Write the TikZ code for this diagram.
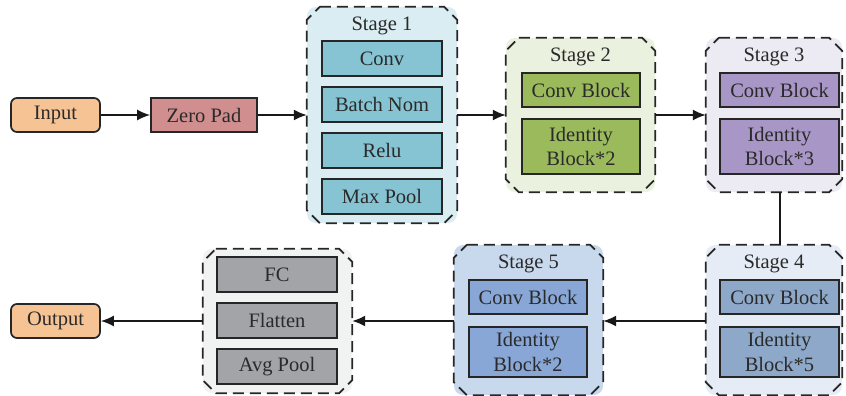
\documentclass[tikz,border=0pt]{standalone}
\usepackage{fontspec}
\setmainfont{Liberation Serif}
\usetikzlibrary{arrows.meta}
\definecolor{ioC}{HTML}{F6C394}
\definecolor{zpC}{HTML}{D08E8E}
\definecolor{sAbg}{HTML}{DAEDF3}\definecolor{sAin}{HTML}{86C4D3}
\definecolor{sBbg}{HTML}{EAF1DE}\definecolor{sBin}{HTML}{9BBA5C}
\definecolor{sCbg}{HTML}{ECEAF3}\definecolor{sCin}{HTML}{A897C6}
\definecolor{sDbg}{HTML}{E6ECF6}\definecolor{sDin}{HTML}{8EA8C9}
\definecolor{sEbg}{HTML}{C8D9EE}\definecolor{sEin}{HTML}{88A7D6}
\definecolor{sFbg}{HTML}{F1F2F2}\definecolor{sFin}{HTML}{A3A4A8}
\definecolor{txt}{HTML}{2A2A2A}
\tikzset{
  every node/.style={font=\fontsize{20.5}{24.5}\selectfont, text=txt},
  stagebox/.style={rectangle, rounded corners=9pt, inner sep=0pt, draw=none},
  outline/.style={draw=black!85, line width=1.8pt, dash pattern=on 11pt off 6pt},
  blk/.style={draw=black!85, line width=1.7pt, inner sep=0pt, minimum width=118pt, align=center},
  iobox/.style={draw=black!85, line width=1.7pt, rounded corners=6pt, fill=ioC, minimum width=89pt, minimum height=34pt, inner sep=0pt},
  conn/.style={line width=1.6pt, draw=black!90},
  arr/.style={conn, -{Latex[length=13pt,width=11pt]}},
  ttl/.style={inner sep=0pt}
}
\newcommand{\chamfout}[1]{%
  \draw[outline] ([xshift=13pt]#1.north west) -- ([xshift=-13pt]#1.north east) -- ([yshift=-13pt]#1.north east)
   -- ([yshift=13pt]#1.south east) -- ([xshift=-13pt]#1.south east) -- ([xshift=13pt]#1.south west)
   -- ([yshift=13pt]#1.south west) -- ([yshift=-13pt]#1.north west) -- cycle;}
\begin{document}
\begin{tikzpicture}[x=1pt,y=-1pt]
\useasboundingbox (0,0) rectangle (846,396);
% outer stages
\node[stagebox, fill=sAbg, minimum width=150pt, minimum height=216pt] (s1) at (382,115) {};
\node[stagebox, fill=sBbg, minimum width=149pt, minimum height=154pt] (s2) at (580.5,115) {};
\node[stagebox, fill=sCbg, minimum width=136pt, minimum height=154pt] (s3) at (774,115) {};
\node[stagebox, fill=sDbg, minimum width=136pt, minimum height=150pt] (s4) at (774,320) {};
\node[stagebox, fill=sEbg, minimum width=149pt, minimum height=150pt] (s5) at (528.5,320) {};
\node[stagebox, fill=sFbg, minimum width=149pt, minimum height=144pt] (s6) at (277.5,321) {};
\chamfout{s1}\chamfout{s2}\chamfout{s3}\chamfout{s4}\chamfout{s5}\chamfout{s6}
% titles
\node[ttl] (t1) at (382,26) {Stage 1};
\node[ttl] (t2) at (580.5,57) {Stage 2};
\node[ttl] (t3) at (774,57) {Stage 3};
\node[ttl] (t4) at (774,264) {Stage 4};
\node[ttl] (t5) at (528.5,264) {Stage 5};
% io
\node[iobox] (in) at (55.5,115) {Input};
\node[iobox] (out) at (55.5,321) {Output};
\node[blk, fill=zpC, minimum width=106pt, minimum height=34pt] (zp) at (204,115) {Zero Pad};
% stage 1
\node[blk, fill=sAin, minimum width=120pt, minimum height=35pt] (c1) at (382,58.5) {Conv};
\node[blk, fill=sAin, minimum width=120pt, minimum height=35pt] (b1) at (382,104.5) {Batch Nom};
\node[blk, fill=sAin, minimum width=120pt, minimum height=35pt] (r1) at (382,150.5) {Relu};
\node[blk, fill=sAin, minimum width=120pt, minimum height=35pt] (m1) at (382,196.5) {Max Pool};
% stage 2
\node[blk, fill=sBin, minimum height=34pt] (c2) at (581,90) {Conv Block};
\node[blk, fill=sBin, minimum height=55pt] (i2) at (581,146.5) {Identity\\Block*2};
% stage 3
\node[blk, fill=sCin, minimum width=119pt, minimum height=34pt] (c3) at (779.5,90) {Conv Block};
\node[blk, fill=sCin, minimum width=119pt, minimum height=55pt] (i3) at (779.5,146.5) {Identity\\Block*3};
% stage 4
\node[blk, fill=sDin, minimum width=119pt, minimum height=34pt] (c4) at (779.5,297) {Conv Block};
\node[blk, fill=sDin, minimum width=119pt, minimum height=50pt] (i4) at (779.5,352) {Identity\\Block*5};
% stage 5
\node[blk, fill=sEin, minimum height=34pt] (c5) at (528,297) {Conv Block};
\node[blk, fill=sEin, minimum height=50pt] (i5) at (528,352) {Identity\\Block*2};
% final
\node[blk, fill=sFin, minimum width=120pt, minimum height=35pt] (fc) at (277,274.5) {FC};
\node[blk, fill=sFin, minimum width=120pt, minimum height=35pt] (fl) at (277,320.5) {Flatten};
\node[blk, fill=sFin, minimum width=120pt, minimum height=35pt] (ap) at (277,366.5) {Avg Pool};
% connectors
\draw[arr] (in.east) -- (zp.west);
\draw[arr] (zp.east) -- (s1.west);
\draw[arr] (s1.east) -- (s2.west);
\draw[arr] (s2.east) -- (s3.west);
\draw[conn] ([xshift=6pt]s3.south) -- ([xshift=6pt]s4.north);
\draw[arr] ([yshift=-1pt]s4.west) -- ([yshift=-1pt]s5.east);
\draw[arr] ([yshift=-1pt]s5.west) -- (s6.east);
\draw[arr] (s6.west) -- (out.east);
\end{tikzpicture}
\end{document}
